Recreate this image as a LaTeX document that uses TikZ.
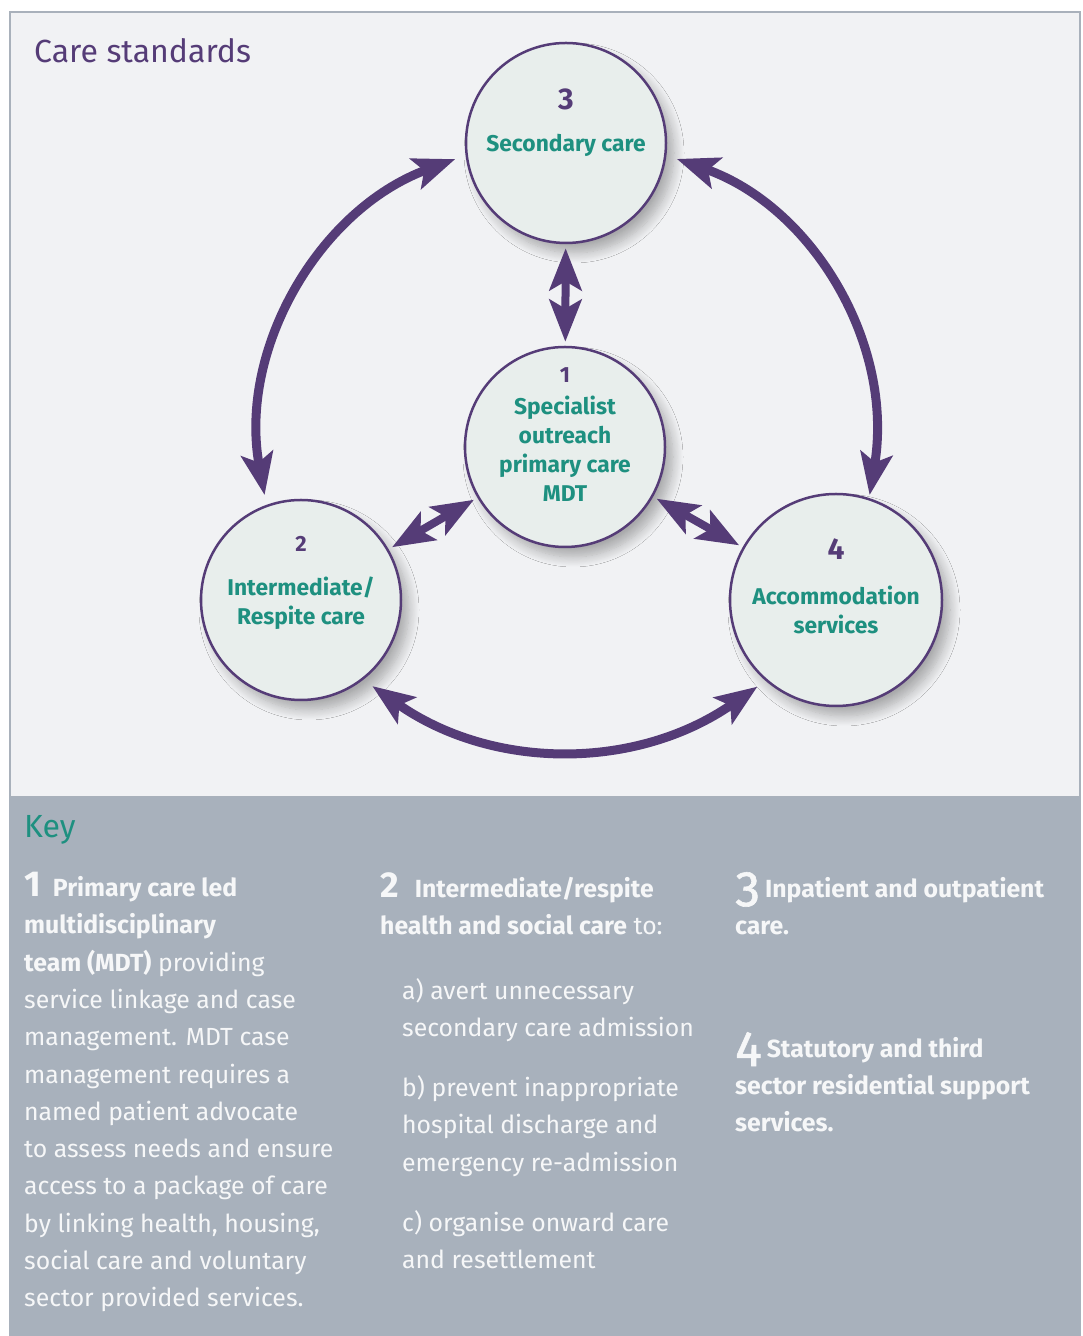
\documentclass[tikz,border=0pt]{standalone}
\usepackage{fontspec}
\setmainfont{Fira Sans}
\usetikzlibrary{positioning}
\usetikzlibrary{arrows.meta}
\usetikzlibrary{shadows.blur}
\definecolor{carepurple}{HTML}{553C77}
\definecolor{careteal}{HTML}{1E9080}
\definecolor{panelfill}{HTML}{F1F2F4}
\definecolor{panelline}{HTML}{A9B1BB}
\definecolor{keyfill}{HTML}{A8B1BC}
\definecolor{circlefill}{HTML}{E8EEEC}
\definecolor{keywhite}{HTML}{F6F7F8}
\newcommand{\keynum}[2][12pt]{{\fontsize{36}{36}\selectfont\bfseries #2}\hspace{#1}}
\newcommand{\keynumtall}[1]{\raisebox{-9pt}{\fontsize{50}{50}\selectfont\addfontfeatures{FakeBold=1.2}#1}\hspace{5pt}}
\tikzset{
    carenode/.style = {circle, line width=2.5, draw=carepurple, fill=circlefill, minimum size=200, inner sep=0,
        blur shadow={shadow xshift=8pt, shadow yshift=-10pt, shadow blur radius=10pt, shadow blur steps=12, shadow opacity=30}},
    carenum/.style = {inner sep=0, text=carepurple, font=\fontsize{30}{30}\selectfont\bfseries},
    carenums/.style = {inner sep=0, text=carepurple, font=\fontsize{22}{22}\selectfont\bfseries},
    carelabel/.style = {inner sep=0, align=center, text=careteal, font=\fontsize{22.8}{29}\selectfont\bfseries},
    link/.style = {line width=8, draw=carepurple, {Stealth[length=42pt,width=32pt,inset=9pt]}-{Stealth[length=42pt,width=32pt,inset=9pt]},
        shorten <=4pt, shorten >=4pt},
    arclink/.style = {link, line width=9, shorten <=11pt, shorten >=10pt},
    keytext/.style = {anchor=north west, inner sep=0, align=left, text=keywhite, font=\fontsize{24.8}{37.3}\selectfont},
    heading/.style = {anchor=base west, inner sep=0, font=\fontsize{32}{32}\selectfont}
}
\begin{document}
\begin{tikzpicture}[x=1pt,y=1pt]
\useasboundingbox (0,0) rectangle (1082,1336);
\path[fill=white] (0,0) rectangle (1082,1336);
% panels
\path[draw=panelline, line width=2, fill=panelfill] (10,539) rectangle (1080,1324);
\path[fill=keyfill] (9,0) rectangle (1081,539);
\node[heading, text=carepurple] (title) at (34,1273) {Care standards};
%
\node[carenode] (n3) at (566,1193) {};
\node[carenode] (n1) at (565,889) {};
\node[carenode] (n2) at (301,736) {};
\node[carenode, minimum size=212] (n4) at (836,736) {};
%
\node[carenum] (n3num) at ([yshift=44]n3.center) {3};
\node[carelabel] (n3text) at ([yshift=-2]n3.center) {Secondary care};
\node[carenums] (n1num) at ([yshift=72]n1.center) {1};
\node[carelabel] (n1text) at ([yshift=-1.5]n1.center) {Specialist\\outreach\\primary care\\MDT};
\node[carenums] (n2num) at ([yshift=56]n2.center) {2};
\node[carelabel] (n2text) at ([yshift=-3.5]n2.center) {Intermediate/\\Respite care};
\node[carenum] (n4num) at ([yshift=51]n4.center) {4};
\node[carelabel] (n4text) at ([yshift=-10]n4.center) {Accommodation\\services};
%
\draw[link] (n3) -- (n1);
\draw[link] (n1) -- (n2);
\draw[link] (n1) -- (n4);
\draw[arclink] (n3.187) to[bend right=40] (n2.110);
\draw[arclink, shorten >=3pt] (n3.353) to[bend left=40] (n4.72);
\draw[arclink] (n2.308) to[bend right=35] (n4.229);
%
\node[heading, text=careteal] (key) at (24,498) {Key};
\node[keytext] (key1) at (24,464) {\keynum{1}\textbf{Primary care led}\\
\textbf{multidisciplinary}\\
\textbf{team (MDT)} providing\\
service linkage and case\\
management. MDT case\\
management requires a\\
named patient advocate\\
to assess needs and ensure\\
access to a package of care\\
by linking health, housing,\\
social care and voluntary\\
sector provided services.};
\node[keytext] (key2) at (380,464) {\keynum[16pt]{2}\textbf{Intermediate/respite}\\
\textbf{health and social care} to:};
\node[keytext] (key2abc) at (402,358) {a) avert unnecessary\\
secondary care admission\\[22.7pt]
b) prevent inappropriate\\
hospital discharge and\\
emergency re-admission\\[22.7pt]
c) organise onward care\\
and resettlement};
\node[keytext] (key3) at (735,464) {\keynumtall{3}\textbf{Inpatient and outpatient}\\
\textbf{care.}};
\node[keytext] (key4) at (735,304) {\keynumtall{4}\textbf{Statutory and third}\\
\textbf{sector residential support}\\
\textbf{services.}};
\end{tikzpicture}
\end{document}
